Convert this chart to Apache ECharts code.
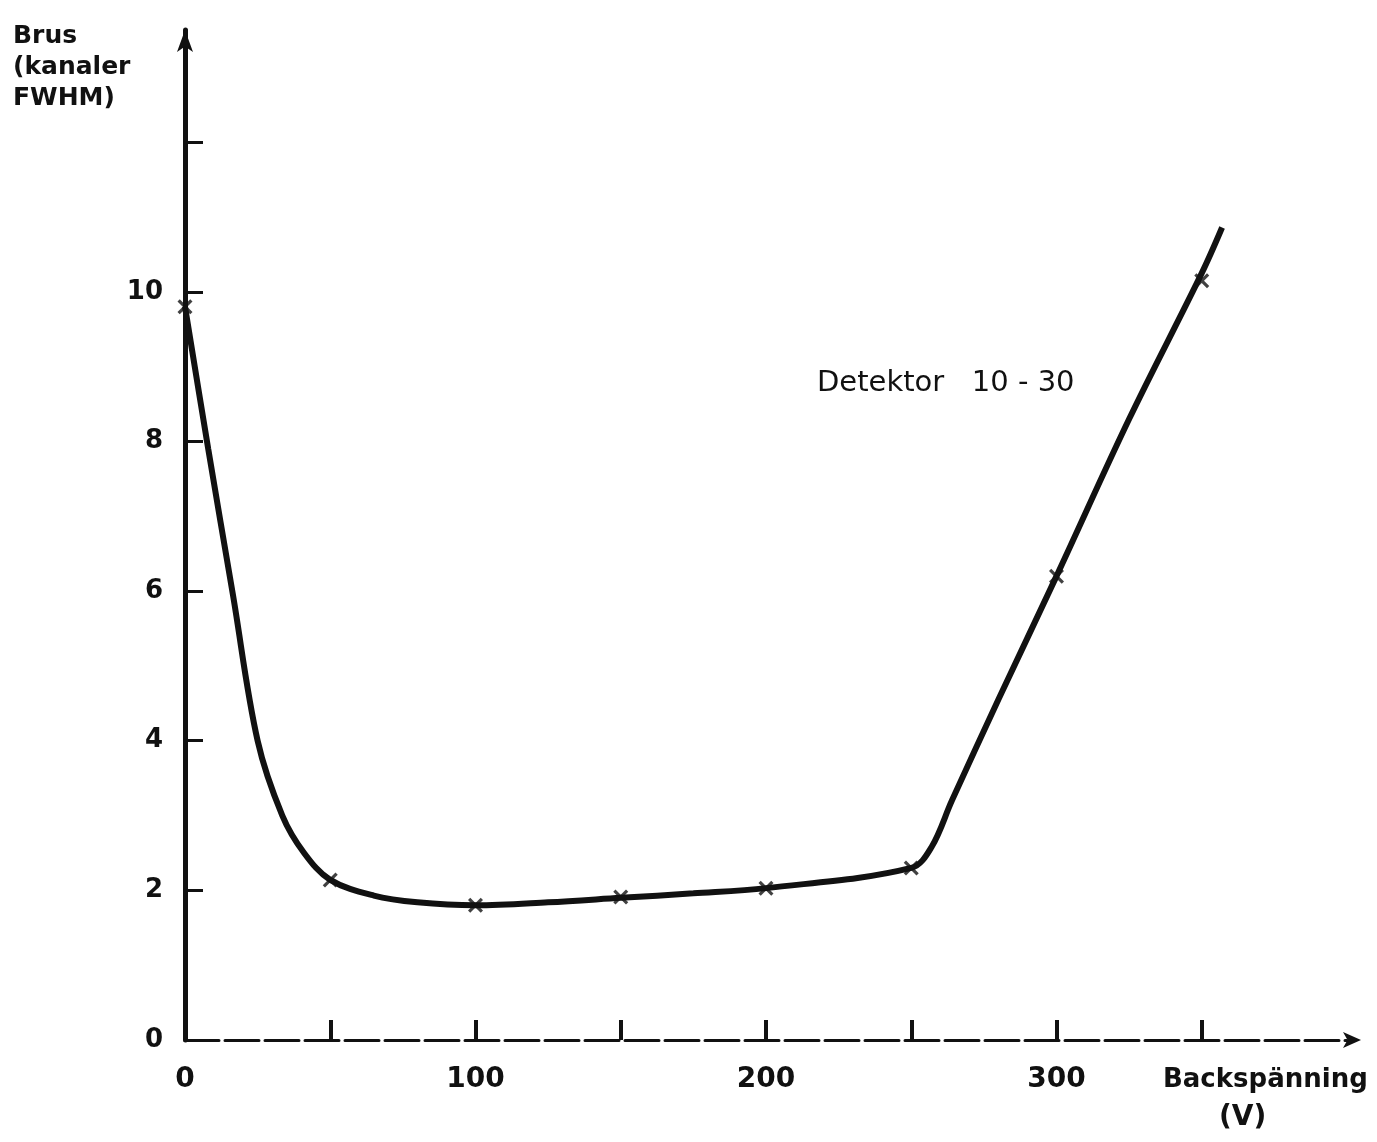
<!DOCTYPE html>
<html>
<head>
<meta charset="utf-8">
<script src="https://cdn.jsdelivr.net/npm/echarts@6/dist/echarts.min.js"></script>
<style>
html,body{margin:0;padding:0;background:#fff;}
#c{width:1377px;height:1142px;}
</style>
</head>
<body>
<div id="c"></div>
<script>
// Traced curve (Backspänning V, Brus kanaler FWHM)
const curveX = [0, 8, 16.5, 25, 33.5, 41, 50, 65, 80, 100, 125, 150, 175, 200, 250, 257, 264, 280, 300, 325, 350, 357];
const curveY = [9.8, 7.9, 5.95, 4.0, 3.0, 2.5, 2.14, 1.93, 1.84, 1.80, 1.84, 1.90, 1.96, 2.03, 2.30, 2.58, 3.2, 4.55, 6.2, 8.3, 10.25, 10.86];
// Measured points (marked with x)
const pointX = [0, 50, 100, 150, 200, 250, 300, 350];
const pointY = [9.8, 2.14, 1.80, 1.91, 2.03, 2.30, 6.2, 10.15];
// Tick values
const xTickValues = [50, 100, 150, 200, 250, 300, 350];
const xLabelValues = [0, 100, 200, 300];
const yTickValues = [2, 4, 6, 8, 10, 12];
const yLabelValues = [0, 2, 4, 6, 8, 10];

const yTitle = 'Brus\n(kanaler\nFWHM)';
const xTitle = 'Backspänning';
const xUnit = '(V)';
const annotation = 'Detektor   10 - 30';

const FONT = 'DejaVu Sans';
const chart = echarts.init(document.getElementById('c'), null, {renderer: 'canvas'});
const crossPath = 'path://M0,1.5L1.5,0L5,3.5L8.5,0L10,1.5L6.5,5L10,8.5L8.5,10L5,6.5L1.5,10L0,8.5L3.5,5Z';

chart.setOption({
  backgroundColor: '#ffffff',
  animation: false,
  title: [
    {text: yTitle, left: 8, top: 16, textStyle: {fontFamily: FONT, fontWeight: 'bold', fontSize: 25, lineHeight: 31, color: '#111'}},
    {text: annotation, left: 812, top: 364, textStyle: {fontFamily: FONT, fontWeight: 'normal', fontSize: 29, color: '#111'}},
    {text: xTitle, left: 1158, top: 1062, textStyle: {fontFamily: FONT, fontWeight: 'bold', fontSize: 26, color: '#111'}},
    {text: xUnit, left: 1214, top: 1099, textStyle: {fontFamily: FONT, fontWeight: 'bold', fontSize: 28, color: '#111'}}
  ],
  grid: {left: 185, top: 30, width: 1162, bottom: 102, containLabel: false},
  xAxis: {
    type: 'value', min: 0, max: 400, interval: 50,
    axisLine: {show: true, symbol: ['none', 'arrow'], symbolSize: [12, 18], symbolOffset: [0, 14],
      lineStyle: {color: '#111', width: 3, type: [34, 6]}},
    axisTick: {show: true, inside: true, length: 20, customValues: xTickValues, lineStyle: {color: '#111', width: 4}},
    axisLabel: {show: true, customValues: xLabelValues, margin: 26, fontFamily: FONT, fontWeight: 'bold', fontSize: 28, color: '#111'},
    splitLine: {show: false}
  },
  yAxis: {
    type: 'value', min: 0, max: 13.5, interval: 2,
    axisLine: {show: true, symbol: ['none', 'arrow'], symbolSize: [12, 22], lineStyle: {color: '#111', width: 5}},
    axisTick: {show: true, inside: true, length: 18, customValues: yTickValues, lineStyle: {color: '#111', width: 3}},
    axisLabel: {show: true, customValues: yLabelValues, margin: 22, fontFamily: FONT, fontWeight: 'bold', fontSize: 26, color: '#111'},
    splitLine: {show: false}
  },
  series: [
    {
      type: 'line',
      data: curveX.map((x, i) => [x, curveY[i]]),
      smooth: 0.35,
      showSymbol: false, symbol: 'none',
      lineStyle: {color: '#111', width: 6},
      z: 2
    },
    {
      type: 'scatter',
      data: pointX.map((x, i) => [x, pointY[i]]),
      symbol: crossPath, symbolSize: 15,
      itemStyle: {color: '#111'},
      z: 3
    }
  ]
});
</script>
</body>
</html>
